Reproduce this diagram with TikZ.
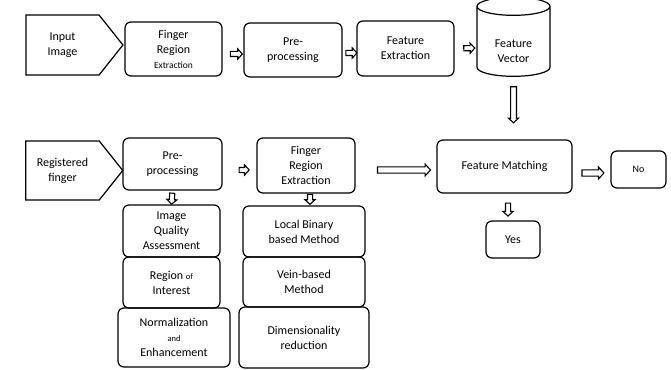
\documentclass[tikz,border=0pt]{standalone}
\usepackage{fontspec}
\setmainfont{Carlito}
\usetikzlibrary{arrows.meta, positioning, shapes.geometric, shapes.symbols, shapes.arrows}

\begin{document}
\begin{tikzpicture}[
    x=1pt, y=-1pt,
    every node/.style={font=\fontsize{12}{15}\selectfont},
    box/.style={
        rectangle,
        draw=black,
        line width=1.2pt,
        rounded corners=6pt,
        align=center,
        inner sep=1pt,
        outer sep=0pt
    },
    inbox/.style={
        signal,
        signal to=east,
        signal pointer angle=103,
        draw=black,
        line width=1.2pt,
        align=center,
        minimum width=97pt,
        minimum height=60pt
    },
    store/.style={
        cylinder,
        shape border rotate=90,
        aspect=0.5,
        inner sep=18pt,
        draw=black,
        line width=1.2pt,
        align=center
    },
    blk/.style={
        single arrow,
        draw=black,
        fill=white,
        line width=1.1pt,
        inner xsep=0pt,
        inner ysep=2pt,
        single arrow head extend=2.5pt,
        single arrow tip angle=95,
        minimum height=#1,
        sloped,
        allow upside down
    },
    bigblk/.style={blk=#1, inner ysep=2.6pt, single arrow head extend=2.8pt}
]
\useasboundingbox (0,0) rectangle (671,369);

% top row
\node[inbox] (inimg) at (62.5,45) {Input\\Image};
\node[box, minimum width=97pt, minimum height=54pt] (fre) at (173.5,49)
    {Finger\\Region\\{\fontsize{9.5}{11}\selectfont Extraction}};
\node[box, minimum width=98pt, minimum height=54pt] (pre) at (293,50) {Pre-\\processing};
\node[box, minimum width=97pt, minimum height=55pt] (fex) at (405.5,48.5) {Feature\\Extraction};
\node[store, minimum width=73pt, minimum height=79pt,
    label={[align=center, yshift=-6pt]center:{Feature\\Vector}}] (fvec) at (513.5,45.5) {};

% bottom row
\node[inbox, minimum height=59pt] (regf) at (62.5,170.5) {Registered\\finger};
\node[box, minimum width=99pt, minimum height=52pt] (pre2) at (172.5,164) {Pre-\\processing};
\node[box, minimum width=97pt, minimum height=52pt] (iqa) at (171.5,231) {Image\\Quality\\Assessment};
\node[box, minimum width=97pt, minimum height=51pt, below=0pt of iqa] (roi)
    {Region {\fontsize{8.5}{10}\selectfont of}\\Interest};
\node[box, minimum width=112pt, minimum height=59pt, below=0pt of roi, xshift=2.5pt] (norm)
    {Normalization\\{\fontsize{8.5}{10}\selectfont and}\\Enhancement};

\node[box, minimum width=98pt, minimum height=55pt] (fre2) at (306,165.5) {Finger\\Region\\Extraction};
\node[box, minimum width=122pt, minimum height=51pt] (lbm) at (304,231.5) {Local Binary\\based Method};
\node[box, minimum width=122pt, minimum height=50pt, below=0pt of lbm] (vein) {Vein-based\\Method};
\node[box, minimum width=130pt, minimum height=61pt, below=0pt of vein] (dimred)
    {Dimensionality\\reduction};

\node[box, minimum width=135pt, minimum height=53pt] (match) at (504.5,166.5) {Feature Matching};
\node[box, minimum width=55pt, minimum height=37pt, font=\fontsize{10}{12}\selectfont] (no) at (638.5,169.5) {No};
\node[box, minimum width=54pt, minimum height=37pt] (yes) at (513,239.5) {Yes};

% block arrows
\path ([yshift=-5pt]fre.east) -- node[pos=0.6, blk=12pt] (a1) {} ([yshift=-4pt]pre.west);
\path ([yshift=-3pt]pre.east) -- node[pos=0.55, blk=11pt] (a2) {} ([yshift=-4.5pt]fex.west);
\path (fex.east) -- node[pos=0.63, blk=11pt] (a3) {} ([yshift=-2.5pt]fvec.west);
\path (fvec.south) -- node[pos=0.42, bigblk=36pt, inner ysep=2.4pt, single arrow head extend=2pt] (a4) {} (fvec.south |- match.north);
\path (pre2.south) -- node[blk=11pt] (a5) {} (iqa.north);
\path ([yshift=-6pt]pre2.east) -- node[pos=0.6, blk=10pt] (a6) {} ([yshift=-4.5pt]fre2.west);
\path ([xshift=4pt]fre2.south) -- node[pos=0.4, blk=10pt] (a7) {} ([xshift=4pt]fre2.south |- lbm.north);
\path ([yshift=-4.5pt]fre2.east) -- node[pos=0.58, bigblk=53pt] (a8) {} ([yshift=-3.5pt]match.west);
\path ([yshift=-6.5pt]match.east) -- node[bigblk=22pt] (a9) {} ([yshift=-3.5pt]no.west);
\path ([xshift=3.5pt]match.south) -- node[pos=0.55, blk=13pt] (a10) {} ([xshift=3.5pt]match.south |- yes.north);

\end{tikzpicture}
\end{document}
